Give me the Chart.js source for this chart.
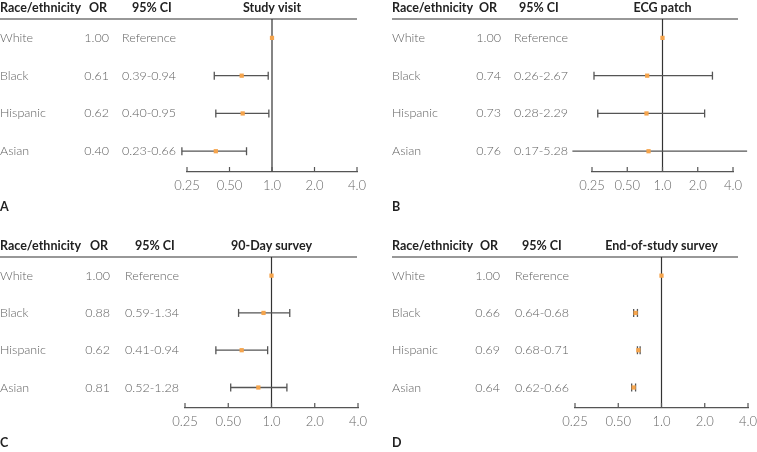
<!DOCTYPE html>
<html>
<head>
<meta charset="utf-8">
<script src="https://cdn.jsdelivr.net/npm/chart.js@4"></script>
<style>
  html, body { margin: 0; padding: 0; background: #fff; overflow: hidden; }
  #wrap { position: relative; width: 757px; height: 452px; }
  canvas { position: absolute; }
</style>
</head>
<body>
<div id="wrap">
  <canvas id="panelA" width="380" height="225" style="left:0;top:0"></canvas>
  <canvas id="panelB" width="385" height="225" style="left:380px;top:0"></canvas>
  <canvas id="panelC" width="380" height="227" style="left:0;top:225px"></canvas>
  <canvas id="panelD" width="385" height="227" style="left:380px;top:225px"></canvas>
</div>
<script>
// Data
const groups = ["White", "Black", "Hispanic", "Asian"];
const tickValues = [0.25, 0.5, 1, 2, 4];
const tickLabels = ["0.25", "0.50", "1.0", "2.0", "4.0"];

const studyVisitOR = [1.00, 0.61, 0.62, 0.40];
const studyVisitLow = [null, 0.39, 0.40, 0.23];
const studyVisitHigh = [null, 0.94, 0.95, 0.66];

const ecgPatchOR = [1.00, 0.74, 0.73, 0.76];
const ecgPatchLow = [null, 0.26, 0.28, 0.17];
const ecgPatchHigh = [null, 2.67, 2.29, 5.28];

const day90OR = [1.00, 0.88, 0.62, 0.81];
const day90Low = [null, 0.59, 0.41, 0.52];
const day90High = [null, 1.34, 0.94, 1.28];

const endStudyOR = [1.00, 0.66, 0.69, 0.64];
const endStudyLow = [null, 0.64, 0.68, 0.62];
const endStudyHigh = [null, 0.68, 0.71, 0.66];

const FONT = '"Lato", "Open Sans", sans-serif';
Chart.defaults.font.family = FONT;

// Layout of each panel (canvas-local pixels)
const panels = [
  { id: "panelA", letter: "A", title: "Study visit", or: studyVisitOR, lo: studyVisitLow, hi: studyVisitHigh,
    left: 187, right: 357, top: 19, bottom: 172,
    labelX: 0, orHeadX: 89, ciHeadX: 132, orX: 109, ciX: 122, ruleFrom: 0, ruleTo: 357 },
  { id: "panelB", letter: "B", title: "ECG patch", or: ecgPatchOR, lo: ecgPatchLow, hi: ecgPatchHigh,
    left: 212, right: 353, top: 19, bottom: 172,
    labelX: 12, orHeadX: 99, ciHeadX: 139, orX: 121, ciX: 134, ruleFrom: 12, ruleTo: 358 },
  { id: "panelC", letter: "C", title: "90-Day survey", or: day90OR, lo: day90Low, hi: day90High,
    left: 185, right: 358, top: 32, bottom: 183,
    labelX: 0, orHeadX: 90, ciHeadX: 135, orX: 110, ciX: 125, ruleFrom: 0, ruleTo: 357 },
  { id: "panelD", letter: "D", title: "End-of-study survey", or: endStudyOR, lo: endStudyLow, hi: endStudyHigh,
    left: 195, right: 368, top: 32, bottom: 183,
    labelX: 12, orHeadX: 100, ciHeadX: 142, orX: 120, ciX: 135, ruleFrom: 12, ruleTo: 358 }
];

const AXIS_H = 40;

// Draws the table columns, header rule, OR=1 line and upward ticks
const forestTable = {
  id: "forestTable",
  beforeDatasetsDraw(chart, args, p) {
    const { ctx, chartArea } = chart;
    const x = chart.scales.x, y = chart.scales.y;
    ctx.save();
    ctx.lineWidth = 1.2;
    ctx.strokeStyle = "#333";
    ctx.beginPath();
    ctx.moveTo(p.ruleFrom, chartArea.top);
    ctx.lineTo(p.ruleTo, chartArea.top);
    ctx.stroke();

    const x1 = x.getPixelForValue(1);
    ctx.beginPath();
    ctx.moveTo(x1, chartArea.top);
    ctx.lineTo(x1, chartArea.bottom);
    ctx.stroke();

    ctx.strokeStyle = "#555";
    x.ticks.forEach(t => {
      const px = x.getPixelForValue(t.value);
      ctx.beginPath();
      ctx.moveTo(px, chartArea.bottom);
      ctx.lineTo(px, chartArea.bottom - 5);
      ctx.stroke();
    });

    // header
    const hy = chartArea.top - 11;
    ctx.fillStyle = "#222";
    ctx.font = "bold 12.5px " + FONT;
    ctx.textBaseline = "middle";
    ctx.textAlign = "left";
    ctx.fillText("Race/ethnicity", p.labelX, hy);
    ctx.fillText("OR", p.orHeadX, hy);
    ctx.fillText("95% CI", p.ciHeadX, hy);
    ctx.textAlign = "center";
    ctx.fillText(p.title, x1, hy);

    // rows
    ctx.font = "300 12.5px " + FONT;
    ctx.fillStyle = "#5f5f5f";
    groups.forEach((g, i) => {
      const py = y.getPixelForValue(i);
      ctx.textAlign = "left";
      ctx.fillText(g, p.labelX, py);
      ctx.textAlign = "right";
      ctx.fillText(p.or[i].toFixed(2), p.orX, py);
      ctx.textAlign = "left";
      const ci = p.lo[i] === null ? "Reference" : p.lo[i].toFixed(2) + "-" + p.hi[i].toFixed(2);
      ctx.fillText(ci, p.ciX, py);
    });

    // panel letter
    ctx.fillStyle = "#222";
    ctx.font = "bold 12.5px " + FONT;
    ctx.textAlign = "left";
    ctx.fillText(p.letter, p.labelX, chartArea.bottom + 35);
    ctx.restore();
  }
};

function makePanel(p) {
  const canvas = document.getElementById(p.id);
  const datasets = [];
  groups.forEach((g, i) => {
    if (p.lo[i] === null) return;
    datasets.push({
      type: "scatter",
      showLine: true,
      data: [{ x: p.lo[i], y: i }, { x: p.hi[i], y: i }],
      borderColor: "#555",
      borderWidth: 1.3,
      pointStyle: "line",
      rotation: 90,
      pointRadius: 4,
      pointBorderWidth: 1.3,
      pointBorderColor: "#555",
      clip: false,
      order: 2
    });
  });
  datasets.push({
    type: "scatter",
    data: p.or.map((v, i) => ({ x: v, y: i })),
    pointStyle: "rect",
    pointRadius: 3,
    backgroundColor: "#f5a44c",
    borderColor: "#f5a44c",
    pointBorderWidth: 0,
    clip: false,
    order: 1
  });

  return new Chart(canvas, {
    type: "scatter",
    data: { datasets },
    options: {
      responsive: false,
      animation: false,
      layout: {
        padding: {
          left: p.left,
          right: canvas.width - p.right,
          top: p.top,
          bottom: canvas.height - p.bottom - AXIS_H
        }
      },
      scales: {
        x: {
          type: "logarithmic",
          min: 0.25,
          max: 4,
          afterBuildTicks: s => { s.ticks = tickValues.map(v => ({ value: v })); },
          afterFit: s => { s.height = AXIS_H; },
          grid: { display: true, drawOnChartArea: false, drawTicks: false },
          border: { display: true, color: "#555", width: 1.2 },
          ticks: {
            autoSkip: false,
            maxRotation: 0,
            padding: 6,
            color: "#666",
            font: { size: 13, weight: 300 },
            callback: v => tickLabels[tickValues.indexOf(v)]
          }
        },
        y: {
          type: "linear",
          display: false,
          reverse: true,
          min: -0.5,
          max: 3.55
        }
      },
      plugins: {
        legend: { display: false },
        tooltip: { enabled: false },
        forestTable: p
      }
    },
    plugins: [forestTable]
  });
}

panels.forEach(makePanel);
</script>
</body>
</html>
